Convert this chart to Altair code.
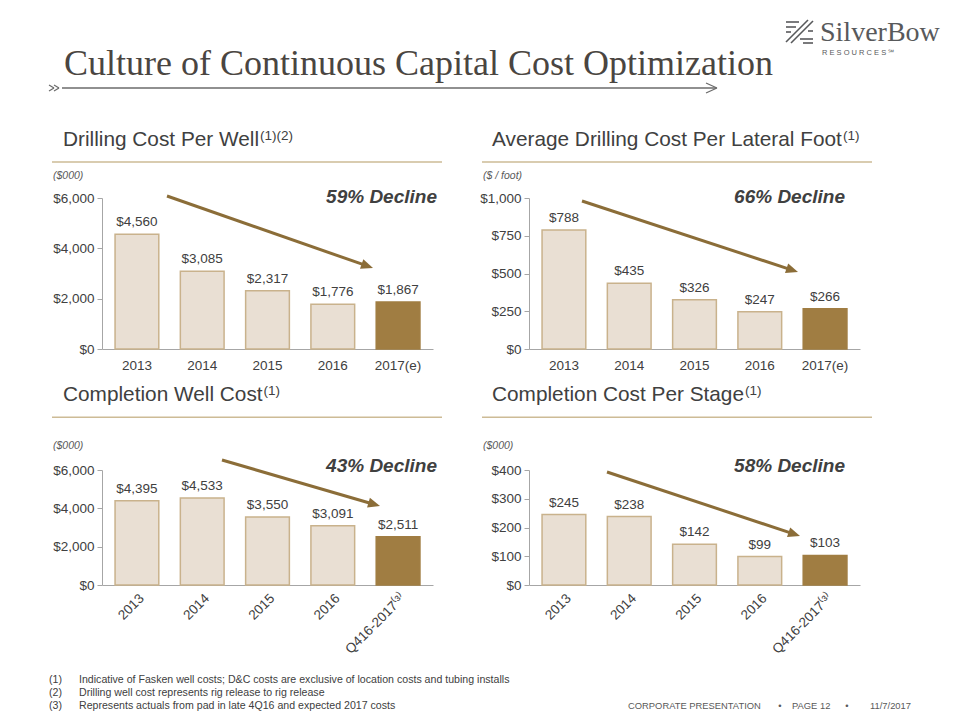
import math
import altair as alt
import pandas as pd

# ---------------- data ----------------
years = ["2013", "2014", "2015", "2016", "2017(e)"]
periods = ["2013", "2014", "2015", "2016", "Q416-2017⁽³⁾"]
drilling_cost_per_well = [4560, 3085, 2317, 1776, 1867]
drilling_cost_per_foot = [788, 435, 326, 247, 266]
completion_well_cost = [4395, 4533, 3550, 3091, 2511]
completion_cost_per_stage = [245, 238, 142, 99, 103]
bar_kind = ["Historical", "Historical", "Historical", "Historical", "Latest"]

footnote_marks = ["(1)", "(2)", "(3)"]
footnote_texts = [
    "Indicative of Fasken well costs; D&C costs are exclusive of location costs and tubing installs",
    "Drilling well cost represents rig release to rig release",
    "Represents actuals from pad in late 4Q16 and expected 2017 costs",
]

# ---------------- style ----------------
FONT = "Liberation Sans"
SERIF = "Liberation Serif"
TXT = "#404040"
LIGHT = "#E9DFD3"
LIGHT_STROKE = "#C9B28C"
DARK = "#A07D42"
ARROW = "#8B6D38"
RULE = "#CDBB96"
AXIS = "#A6A6A6"
GREY = "#595959"

PW = 331
H1 = 151
H2 = 115
HSP = 96
VSP = 121

ONE = pd.DataFrame({"k": [0]})


def text_at(s, x, y, size, color=TXT, align="left", baseline="alphabetic",
            weight="normal", style="normal", font=FONT):
    return alt.Chart(pd.DataFrame({"t": [s]})).mark_text(
        align=align, baseline=baseline, fontSize=size, color=color,
        fontWeight=weight, fontStyle=style, font=font,
    ).encode(x=alt.value(x), y=alt.value(y), text="t:N")


def seg(x1, y1, x2, y2, color, width):
    return alt.Chart(ONE).mark_rule(color=color, strokeWidth=width).encode(
        x=alt.value(x1), x2=alt.value(x2), y=alt.value(y1), y2=alt.value(y2)
    )


HEAD = "M0,0L-2,-0.85L-2,0.85Z"


def arrow(x1, y1, x2, y2):
    a = math.atan2(y2 - y1, x2 - x1)
    ex, ey = x2 - 10 * math.cos(a), y2 - 10 * math.sin(a)
    head = alt.Chart(ONE).mark_point(
        shape=HEAD, size=144, angle=math.degrees(a), filled=True,
        color=ARROW, opacity=1, strokeWidth=0,
    ).encode(x=alt.value(x2), y=alt.value(y2))
    return [seg(x1, y1, ex, ey, ARROW, 3), head]


def header(title, title_xy, sup, sup_xy, rule_x, rule_y, unit, unit_xy,
           decline, decline_xy, arr):
    return [
        text_at(title, title_xy[0], title_xy[1], 20.8),
        text_at(sup, sup_xy[0], sup_xy[1], 13.5),
        seg(rule_x[0], rule_y, rule_x[1], rule_y, RULE, 1.5),
        text_at(unit, unit_xy[0], unit_xy[1], 10.5, color=GREY,
                baseline="middle", style="italic"),
        text_at(decline, decline_xy[0], decline_xy[1], 19, align="right",
                baseline="middle", weight="bold", style="italic"),
    ] + arrow(*arr)


def panel(cats, vals, ymax, ystep, h, rotate, ann, back=None):
    df = pd.DataFrame({"cat": cats, "val": vals, "kind": bar_kind})
    tick_values = list(range(0, ymax + 1, ystep))
    x = alt.X(
        "cat:N", sort=cats, title=None,
        scale=alt.Scale(paddingInner=0.33, paddingOuter=0.2),
        axis=alt.Axis(
            ticks=False, domainColor=AXIS, domainWidth=1,
            labelAngle=-45 if rotate else 0, labelPadding=6 if rotate else 9,
            labelFontSize=13.5, labelColor=TXT, labelFont=FONT,
            labelOverlap=False,
        ),
    )
    y = alt.Y(
        "val:Q", title=None,
        scale=alt.Scale(domain=[0, ymax], nice=False),
        axis=alt.Axis(
            values=tick_values, tickCount=len(tick_values), format="$,.0f", grid=False,
            domainColor=AXIS, tickColor=AXIS, tickSize=5, labelPadding=3,
            labelFontSize=13.5, labelColor=TXT, labelFont=FONT,
            labelOverlap=False, labelFlush=False,
        ),
    )
    bars = alt.Chart(df).mark_bar(strokeWidth=1.5).encode(
        x=x, y=y,
        fill=alt.Fill("kind:N", scale=alt.Scale(domain=["Historical", "Latest"], range=[LIGHT, DARK]), legend=None),
        stroke=alt.Stroke("kind:N", scale=alt.Scale(domain=["Historical", "Latest"], range=[LIGHT_STROKE, DARK]), legend=None),
    )
    labels = alt.Chart(df).mark_text(
        baseline="bottom", dy=-5, fontSize=13.5, color=TXT, font=FONT
    ).encode(
        x=alt.X("cat:N", sort=cats),
        y=alt.Y("val:Q"),
        text=alt.Text("val:Q", format="$,.0f"),
    )
    first = [back] if back is not None else []
    return alt.layer(*(first + [bars, labels] + ann)).properties(
        width=PW, height=h,
        view=alt.ViewBackground(stroke="transparent", strokeOpacity=0),
    )


# ---------------- page header (in panel-1 coordinates) ----------------
anchor = alt.Chart(ONE).mark_rect(opacity=0).encode(
    x=alt.value(-94), x2=alt.value(850), y=alt.value(-190), y2=alt.value(514)
)
LOGO = "#58595B"
page_top = [
    text_at("Culture of Continuous Capital Cost Optimization", -38, -123, 36,
            color="#4A4541", font=SERIF),
    seg(-40, -110, 614, -110, "#6B6B6B", 1.3),
    seg(604, -115, 615, -110, "#6B6B6B", 1.3),
    seg(604, -105, 615, -110, "#6B6B6B", 1.3),
    seg(-53, -113, -48, -110, "#6B6B6B", 1.2),
    seg(-53, -107, -48, -110, "#6B6B6B", 1.2),
    seg(-48, -113, -43, -110, "#6B6B6B", 1.2),
    seg(-48, -107, -43, -110, "#6B6B6B", 1.2),
    text_at("SilverBow", 718, -157, 28, color=LOGO, font=SERIF),
    text_at("R E S O U R C E S ℠", 720, -143, 7.5, color=LOGO),
    # logo mark
    seg(684, -176, 697, -176, LOGO, 1.6),
    seg(684, -171, 694, -171, LOGO, 1.6),
    seg(684, -156, 706, -178, LOGO, 1.6),
    seg(689, -155, 711, -177, LOGO, 1.6),
    seg(698, -159, 711, -159, LOGO, 1.6),
    seg(701, -155, 711, -155, LOGO, 1.6),
    seg(684, -166, 689, -166, LOGO, 1.6),
    seg(706, -167, 711, -167, LOGO, 1.6),
]

# ---------------- page footer (in panel-3 coordinates) ----------------
page_bottom = []
for i, (m, t) in enumerate(zip(footnote_marks, footnote_texts)):
    yy = 210 + 13 * i
    page_bottom.append(text_at(m, -53, yy, 10.6, color=TXT, baseline="middle"))
    page_bottom.append(text_at(t, -23, yy, 10.6, color=TXT, baseline="middle"))
page_bottom += [
    text_at("CORPORATE PRESENTATION", 526, 236, 9.4, color=GREY, baseline="middle"),
    text_at("•", 678, 236, 9.4, color=GREY, align="center", baseline="middle"),
    text_at("PAGE 12", 690, 236, 9.4, color=GREY, baseline="middle"),
    text_at("•", 745, 236, 9.4, color=GREY, align="center", baseline="middle"),
    text_at("11/7/2017", 768, 236, 9.4, color=GREY, baseline="middle"),
]

p1 = panel(
    years, drilling_cost_per_well, 6000, 2000, H1, False,
    header("Drilling Cost Per Well", (-39, -52), "(1)(2)", (158, -58),
           (-50, 340), -36, "($000)", (-49, -22),
           "59% Decline", (335, -1), (65, -2, 271, 70)) + page_top,
    back=anchor,
)
p2 = panel(
    years, drilling_cost_per_foot, 1000, 250, H1, False,
    header("Average Drilling Cost Per Lateral Foot", (-37, -52), "(1)", (314, -58),
           (-47, 343), -36, "($ / foot)", (-46, -22),
           "66% Decline", (316, -1), (53, 3, 269, 74)),
)
p3 = panel(
    periods, completion_well_cost, 6000, 2000, H2, True,
    header("Completion Well Cost", (-39, -69), "(1)", (161.5, -75),
           (-50, 340), -52.7, "($000)", (-49, -24),
           "43% Decline", (335, -4.3), (120, -10, 278, 36)) + page_bottom,
)
p4 = panel(
    periods, completion_cost_per_stage, 400, 100, H2, True,
    header("Completion Cost Per Stage", (-37, -69), "(1)", (216, -75),
           (-47, 343), -52.7, "($000)", (-46, -24),
           "58% Decline", (316, -4.3), (78, 2, 271, 66)),
)

chart = alt.concat(
    p1, p2, p3, p4, columns=2,
    spacing={"row": VSP, "column": HSP}, bounds="flush",
    padding=0, background="white",
).configure(font=FONT).configure_view(strokeOpacity=0, stroke="transparent")

chart.save("out.html", embed_options={"renderer": "svg", "actions": False})
